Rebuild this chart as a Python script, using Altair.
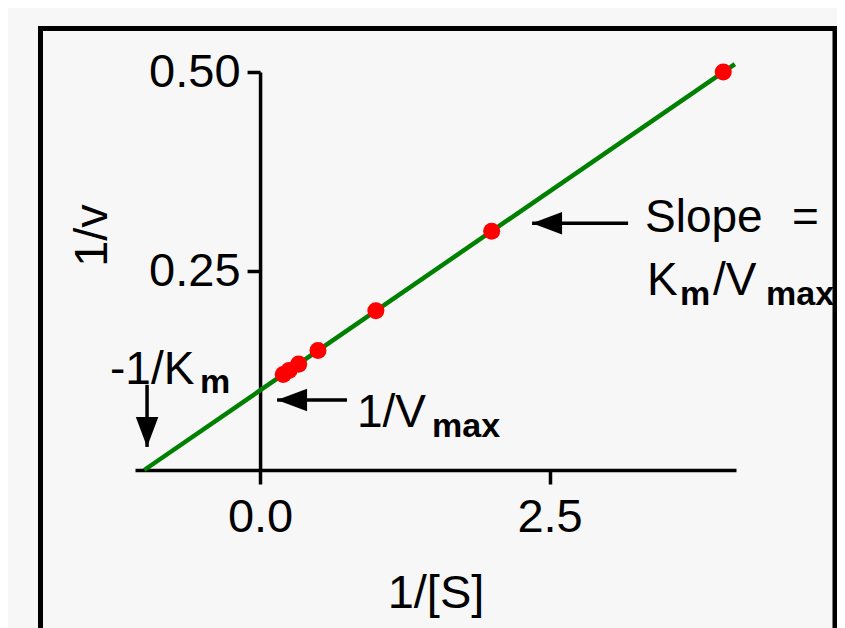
import altair as alt
import pandas as pd

# ---- data ----
inv_s = [0.2, 0.25, 0.333, 0.5, 1.0, 2.0, 4.0]          # 1/[S]
inv_v = [0.12, 0.125, 0.133, 0.15, 0.2, 0.3, 0.5]       # 1/v
fit_x = [-1.0, 4.1]                                     # fitted line ends
fit_y = [0.0, 0.51]
x_ticks = [0.0, 2.5]
y_ticks = [0.25, 0.5]
x_domain = [-1.08, 4.11]
y_domain = [0.0, 0.5]

# annotation texts (data coordinates)
main_txt = ["Slope", "=", "K", "/V", "1/V", "-1/K"]
main_x = [3.324, 4.593, 3.342, 3.911, 0.837, -1.296]
main_y = [0.299, 0.299, 0.2198, 0.2198, 0.054, 0.108]
sub_txt = ["m", "max", "max", "m"]
sub_x = [3.626, 4.369, 1.485, -0.519]
sub_y = [0.2073, 0.2073, 0.0415, 0.0967]

# arrows
arr_left_tip_x = [0.147, 2.349]
arr_left_tip_y = [0.088, 0.310]
arr_left_tail_x = [0.751, 3.178]
arr_down_x = [-0.976]
arr_down_tip_y = [0.029]
arr_down_tail_y = [0.107]

W, H = 601, 398
FONT = "Liberation Sans"

xs = alt.Scale(domain=x_domain, nice=False, zero=False)
ys = alt.Scale(domain=y_domain, nice=False, zero=False)
y_axis_offset = -(0 - x_domain[0]) / (x_domain[1] - x_domain[0]) * W

common_axis = dict(
    grid=False, domainColor="black", domainWidth=3.5, tickColor="black",
    tickWidth=3.5, labelFont=FONT, labelFontSize=47, labelColor="black",
    labelOverlap=False, labelFlush=False, titleFont=FONT, titleFontSize=47,
    titleFontWeight="normal", titleColor="black",
)
xaxis = alt.Axis(values=x_ticks, format=".1f", title="1/[S]", tickSize=14,
                 labelPadding=10, titleBaseline="alphabetic", titleY=137,
                 **common_axis)
yaxis = alt.Axis(values=y_ticks, format=".2f", title="1/v", tickSize=13,
                 labelPadding=7, offset=y_axis_offset, titleAngle=270,
                 titleX=-154, titleY=163, titleAlign="center",
                 titleBaseline="alphabetic", **common_axis)

X = alt.X("x:Q", scale=xs, axis=xaxis)
Y = alt.Y("y:Q", scale=ys, axis=yaxis)

pts = pd.DataFrame({"x": inv_s, "y": inv_v})
fit = pd.DataFrame({"x": fit_x, "y": fit_y})

frame = alt.Chart(alt.Data(values=[{}])).mark_rect(
    fillOpacity=0, stroke="black", strokeWidth=5
).encode(x=alt.value(-94.5), x2=alt.value(700), y=alt.value(-43.5), y2=alt.value(640))

line = alt.Chart(fit).mark_line(color="#008000", strokeWidth=4.5).encode(x=X, y=Y)
points = alt.Chart(pts).mark_circle(size=290, color="#ff0000", opacity=1).encode(x=X, y=Y)

left_df = pd.DataFrame({"x": arr_left_tip_x, "y": arr_left_tip_y, "x2": arr_left_tail_x})
down_df = pd.DataFrame({"x": arr_down_x, "y": arr_down_tip_y, "y2": arr_down_tail_y})

left_shaft = alt.Chart(left_df).mark_rule(color="black", strokeWidth=3.5).encode(
    x=X, x2="x2:Q", y=Y
)
left_head = alt.Chart(left_df).mark_point(
    shape="M0,0L2,-0.75L2,0.75Z", size=900, filled=True, color="black", opacity=1
).encode(x=X, y=Y)

down_shaft = alt.Chart(down_df).mark_rule(color="black", strokeWidth=3.5).encode(
    x=X, y=Y, y2="y2:Q"
)
down_head = alt.Chart(down_df).mark_point(
    shape="M0,0L-0.75,-2L0.75,-2Z", size=900, filled=True, color="black", opacity=1
).encode(x=X, y=Y)

main_df = pd.DataFrame({"x": main_x, "y": main_y, "t": main_txt})
sub_df = pd.DataFrame({"x": sub_x, "y": sub_y, "t": sub_txt})

main_text = alt.Chart(main_df).mark_text(
    font=FONT, fontSize=46, align="left", baseline="alphabetic", color="black"
).encode(x=X, y=Y, text="t:N")
sub_text = alt.Chart(sub_df).mark_text(
    font=FONT, fontSize=34, fontWeight="bold", align="left", baseline="alphabetic", color="black"
).encode(x=X, y=Y, text="t:N")

chart = alt.layer(
    frame, line, points, left_shaft, left_head, down_shaft, down_head, main_text, sub_text
).properties(
    width=W, height=H,
    autosize=alt.AutoSizeParams(type="none"),
    padding={"left": 127, "top": 64, "right": 101, "bottom": 158},
    background="#f7f7f7",
).configure_view(stroke="transparent")

chart.save("out.html", embed_options={"renderer": "svg", "actions": False})
